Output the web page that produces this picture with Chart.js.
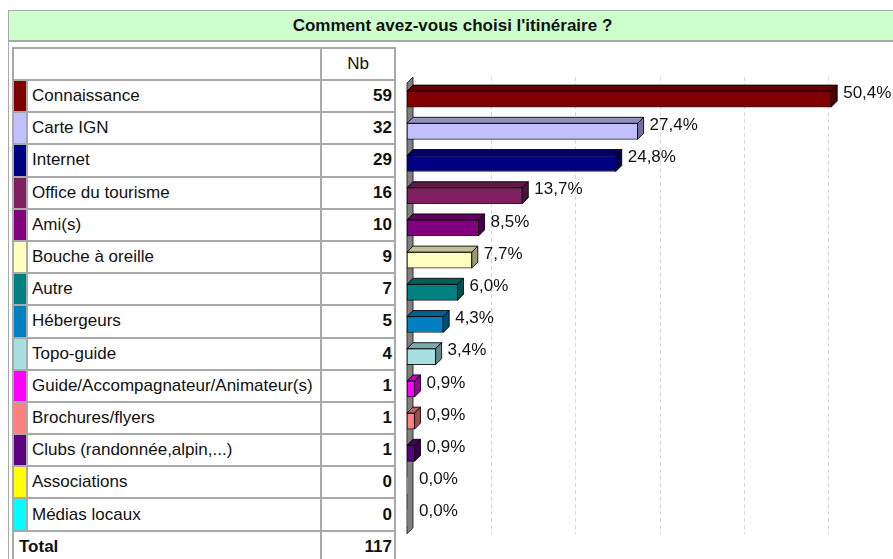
<!DOCTYPE html>
<html lang="fr">
<head>
<meta charset="utf-8">
<title>Comment avez-vous choisi l'itinéraire ?</title>
<script src="https://cdn.jsdelivr.net/npm/chart.js@4.4.1/dist/chart.umd.min.js"></script>
<style>
    html, body { margin: 0; padding: 0; overflow: hidden; background: #fff; }
    body { width: 893px; height: 559px; position: relative; font-family: "Liberation Sans", Arial, sans-serif; color: #111; }
    #frame { position: absolute; left: 8px; top: 10px; width: 887px; height: 560px; border: 1px solid #a8a8a8; }
    #title { height: 29px; line-height: 29px; background: #ccffcc; border-bottom: 2px solid #a8a8a8; text-align: center; font-weight: bold; font-size: 17px; }
    #tbl { position: absolute; left: 12px; top: 47px; display: grid; grid-template-columns: 12px 292px 72px; grid-template-rows: 30px; grid-auto-rows: 30.2px; gap: 2px; padding: 2px; background: #a9a9a9; }
    #tbl div { background: #fff; font-size: 17px; display: flex; align-items: center; white-space: nowrap; }
    #tbl .lbl { padding-left: 4px; }
    #tbl .nb { justify-content: flex-end; padding-right: 2px; font-weight: bold; }
    #tbl .head { justify-content: center; }
    #tbl .span2 { grid-column: span 2; }
    #tbl .total { padding-left: 5px; font-weight: bold; }
    #chartBox { position: absolute; left: 398px; top: 0; width: 514px; height: 559px; }
</style>
</head>
<body>
<div id="frame"><div id="title">Comment avez-vous choisi l'itinéraire ?</div></div>
<div id="tbl"></div>
<div id="chartBox"><canvas id="ItineraireChart"></canvas></div>
<script>
const categories = ['Connaissance', 'Carte IGN', 'Internet', 'Office du tourisme', 'Ami(s)', 'Bouche à oreille', 'Autre', 'Hébergeurs', 'Topo-guide', 'Guide/Accompagnateur/Animateur(s)', 'Brochures/flyers', 'Clubs (randonnée,alpin,...)', 'Associations', 'Médias locaux'];
const counts = [59, 32, 29, 16, 10, 9, 7, 5, 4, 1, 1, 1, 0, 0];
const percents = [50.4, 27.4, 24.8, 13.7, 8.5, 7.7, 6.0, 4.3, 3.4, 0.9, 0.9, 0.9, 0.0, 0.0];
const total = 117;
const barColors = ['#800000', '#c0c0ff', '#000080', '#802060', '#800080', '#ffffc0', '#008080', '#0080c0', '#a8e0e0', '#ff00ff', '#ff8080', '#5a0080', '#ffff00', '#00ffff'];
const xTicks = [0, 10, 20, 30, 40, 50, 60];

const DEPTH = 6;

// table on the left
const tbl = document.querySelector('#tbl');
tbl.innerHTML = '<div class="span2"></div><div class="head">Nb</div>';
for (let i = 0; i < categories.length; i++) {
    tbl.innerHTML += `<div style="background:${barColors[i]}"></div><div class="lbl">${categories[i]}</div><div class="nb">${counts[i]}</div>`;
}
tbl.innerHTML += `<div class="span2 total">Total</div><div class="nb">${total}</div>`;

function shade(hex, f) {
    const n = parseInt(hex.slice(1), 16);
    const r = Math.round(((n >> 16) & 255) * f);
    const g = Math.round(((n >> 8) & 255) * f);
    const b = Math.round((n & 255) * f);
    return `rgb(${r}, ${g}, ${b})`;
}

function poly(ctx, pts, fill) {
    ctx.beginPath();
    ctx.moveTo(pts[0][0], pts[0][1]);
    for (let i = 1; i < pts.length; i++) ctx.lineTo(pts[i][0], pts[i][1]);
    ctx.closePath();
    ctx.fillStyle = fill;
    ctx.fill();
    ctx.stroke();
}

const bars3d = {
    id: 'bars3d',
    beforeDatasetsDraw(chart) {
        const {ctx, chartArea: a, scales: {x}} = chart;
        ctx.save();
        // dashed grid lines
        ctx.strokeStyle = '#d6d6d6';
        ctx.lineWidth = 1;
        ctx.setLineDash([4, 3]);
        xTicks.forEach(v => {
            if (v === 0) return;
            const px = Math.round(x.getPixelForValue(v)) + 0.5;
            ctx.beginPath();
            ctx.moveTo(px, a.top - DEPTH);
            ctx.lineTo(px, a.bottom);
            ctx.stroke();
        });
        ctx.setLineDash([]);
        // grey wall behind the bars
        const l = x.getPixelForValue(0);
        ctx.strokeStyle = '#303030';
        poly(ctx, [[l, a.top], [l + DEPTH, a.top - DEPTH], [l + DEPTH, a.bottom - DEPTH], [l, a.bottom]], '#808080');
        ctx.restore();
    },
    afterDatasetsDraw(chart) {
        const {ctx} = chart;
        const meta = chart.getDatasetMeta(0);
        ctx.save();
        ctx.lineWidth = 1;
        ctx.strokeStyle = 'rgba(0, 0, 0, 0.85)';
        meta.data.forEach((bar, i) => {
            const {x, y, base, height} = bar.getProps(['x', 'y', 'base', 'height'], true);
            const top = y - height / 2, bottom = y + height / 2;
            if (percents[i] > 0) {
                poly(ctx, [[base, top], [base + DEPTH, top - DEPTH], [x + DEPTH, top - DEPTH], [x, top]], shade(barColors[i], 0.75));
                poly(ctx, [[x, top], [x + DEPTH, top - DEPTH], [x + DEPTH, bottom - DEPTH], [x, bottom]], shade(barColors[i], 0.6));
            }
            ctx.fillStyle = '#111';
            ctx.font = '17px "Liberation Sans", Arial, sans-serif';
            ctx.textBaseline = 'middle';
            ctx.fillText(percents[i].toFixed(1).replace('.', ',') + '%', x + 12, y - 6);
        });
        ctx.restore();
    }
};

new Chart(document.querySelector('#ItineraireChart'), {
    type: 'bar',
    data: {
        labels: categories,
        datasets: [{
            label: 'Nb',
            data: percents,
            backgroundColor: barColors,
            borderColor: 'rgba(0, 0, 0, 0.85)',
            borderWidth: c => percents[c.dataIndex] > 0 ? 1 : 0,
            borderSkipped: false,
            barThickness: 16
        }]
    },
    options: {
        indexAxis: 'y',
        responsive: true,
        maintainAspectRatio: false,
        animation: false,
        layout: {
            padding: {left: 9, top: 83, bottom: 25.2, right: 0}
        },
        plugins: {
            legend: {display: false},
            tooltip: {enabled: false}
        },
        scales: {
            x: {
                min: 0,
                max: 60,
                ticks: {display: false, stepSize: 10},
                grid: {display: false},
                border: {display: false},
                afterFit(scale) { scale.height = 0; }
            },
            y: {
                display: false
            }
        }
    },
    plugins: [bars3d]
});
</script>
</body>
</html>
